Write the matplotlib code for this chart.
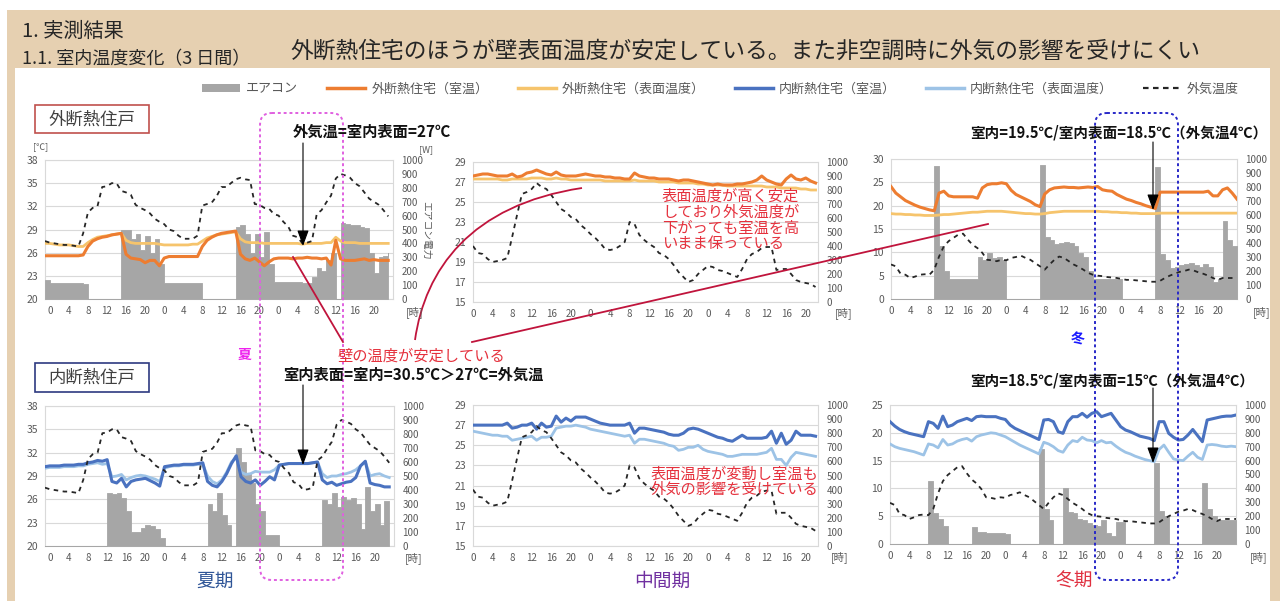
import numpy as np
import matplotlib.pyplot as plt
from matplotlib.patches import Rectangle, FancyBboxPatch, PathPatch, Patch
from matplotlib.path import Path
from matplotlib.lines import Line2D

plt.rcParams['font.family'] = ['Noto Sans CJK JP', 'DejaVu Sans']

# ---- data (hourly readings) ----
hours_sum = np.arange(-1, 72)
hours_mid = np.arange(0, 71)
hours_win = np.arange(0, 73)
xtick_hours = list(range(0, 72, 4))
xtick_labels = ['0', '4', '8', '12', '16', '20'] * 3

out_sum = [27.5,27.3,27.2,27.1,27.0,27.0,26.9,26.8,28.5,
           31.2,31.8,32.0,34.5,34.6,35.0,35.0,34.0,
           33.8,33.5,32.2,31.8,31.5,31.1,30.4,30.0,
           29.7,29.0,28.8,28.2,27.8,27.8,27.8,28.2,
           32.1,32.3,32.5,33.3,34.5,34.5,35.0,35.5,
           35.7,35.5,35.4,32.3,32.2,31.8,31.7,31.0,
           30.8,30.0,29.4,28.2,28.0,27.2,27.3,27.5,
           31.0,31.5,32.5,33.4,35.6,36.2,36.0,35.7,
           35.0,34.6,33.8,33.0,32.6,32.2,31.5,30.7]
ac_out_sum = [140,115,115,115,115,115,115,115,110,
              0,0,0,0,0,0,0,500,
              500,430,470,350,450,330,430,250,
              115,115,115,115,115,115,115,115,
              0,0,0,0,0,0,0,520,
              530,470,330,470,300,480,250,125,
              120,120,120,120,120,115,115,160,
              220,200,280,330,0,545,540,530,
              530,520,510,330,190,300,310,330]
room_out_sum = [25.6,25.6,25.6,25.6,25.6,25.6,25.6,25.6,25.7,
                26.8,27.5,27.8,28.0,28.1,28.3,28.4,28.5,
                25.8,25.3,25.2,25.1,24.7,25.0,25.0,24.3,
                25.3,25.5,25.5,25.5,25.5,25.5,25.5,25.5,
                26.8,27.6,28.0,28.3,28.5,28.6,28.7,28.8,
                25.8,25.2,25.0,25.3,24.8,24.3,24.8,25.2,
                25.3,25.3,25.3,25.2,25.3,25.3,25.4,25.3,
                25.3,25.2,25.3,24.4,27.6,25.2,25.0,25.0,
                25.0,25.1,25.2,25.0,25.1,25.0,25.0,25.0]
surf_out_sum = [27.2,27.2,27.1,27.0,27.0,27.0,26.9,26.8,26.8,
                27.3,27.7,28.0,28.1,28.2,28.3,28.4,28.5,
                27.6,27.3,27.2,27.2,27.2,27.2,27.2,27.1,
                27.0,27.0,27.0,27.0,27.0,27.0,27.1,27.1,
                27.5,27.9,28.1,28.3,28.4,28.5,28.6,28.7,
                27.8,27.4,27.3,27.3,27.3,27.2,27.2,27.2,
                27.2,27.2,27.2,27.2,27.2,27.1,27.2,27.2,
                27.2,27.2,27.3,27.3,28.0,27.5,27.3,27.3,
                27.3,27.2,27.2,27.2,27.2,27.2,27.2,27.2]
ac_in_sum = [0,0,0,0,0,0,0,0,0,0,0,0,0,
             380,370,380,340,250,100,100,130,150,140,120,60,
             0,0,0,0,0,0,0,0,0,
             300,250,380,220,150,0,700,600,520,450,300,250,80,80,80,
             0,0,0,0,0,0,0,0,0,
             330,300,380,280,350,330,340,300,120,420,250,300,150,320,120]
room_in_sum = [30.2,
               30.3,30.3,30.3,30.4,30.4,30.4,30.5,30.5,
               30.7,30.8,31.0,30.9,31.1,
               28.3,28.1,28.7,27.6,28.3,28.5,28.6,28.7,28.4,28.1,27.7,
               30.2,30.3,30.4,30.4,30.5,30.5,30.5,30.6,30.7,
               28.3,27.8,27.6,28.3,29.3,30.6,31.6,
               28.9,28.3,28.1,28.5,27.8,28.3,28.9,28.5,
               30.4,30.5,30.6,30.6,30.6,30.6,30.6,30.7,30.8,
               28.5,28.0,28.2,27.8,28.0,28.2,28.3,28.8,30.3,30.9,28.1,27.9,27.8,27.6,27.6]
surf_in_sum = [30.0,
               30.1,30.1,30.1,30.2,30.2,30.2,30.3,30.3,
               30.5,30.6,30.7,30.5,30.6,
               28.9,29.0,29.2,28.5,28.8,29.0,29.1,29.0,28.8,28.6,28.3,
               30.0,30.2,30.3,30.3,30.4,30.4,30.4,30.5,30.5,
               29.0,28.3,28.0,28.5,29.5,30.8,31.4,
               29.5,29.2,29.3,29.6,29.5,29.5,29.5,29.8,
               30.4,30.5,30.6,30.6,30.6,30.6,30.6,30.7,30.8,
               29.3,28.8,29.0,29.0,29.2,29.3,29.5,29.8,30.3,30.8,29.0,29.2,29.3,29.0,28.8]

out_mid = [20.6,19.9,19.8,19.3,19.0,19.1,19.2,19.4,21.5,23.7,
           25.8,26.0,26.3,26.9,26.5,26.3,25.7,25.0,24.3,24.0,
           23.5,23.3,22.7,22.3,21.8,21.4,20.9,20.3,20.2,20.3,
           20.6,21.0,23.0,22.8,21.7,21.2,20.8,20.5,19.9,19.7,
           19.3,18.7,18.0,17.5,17.0,17.2,17.8,18.2,18.6,18.5,
           18.2,18.1,17.9,17.7,17.5,18.3,19.3,19.8,20.0,20.4,
           20.5,20.5,18.2,18.3,18.3,17.8,17.2,17.0,16.9,16.8,
           16.5]
room_out_mid = [27.6,27.7,27.8,27.8,27.7,27.6,27.6,27.6,27.8,27.5,
                27.6,27.9,28.0,28.2,28.0,27.8,27.7,28.0,27.7,27.6,
                27.6,27.6,27.7,27.8,27.7,27.6,27.6,27.5,27.5,27.4,
                27.4,27.3,27.3,27.9,27.6,27.5,27.4,27.4,27.3,27.3,
                27.3,27.2,27.1,27.2,27.2,27.1,27.0,26.9,26.8,26.7,
                26.8,26.7,26.7,26.7,26.8,26.8,26.9,27.0,27.2,27.6,
                27.2,27.0,26.8,26.7,27.3,27.7,27.3,27.2,27.4,27.1,26.9]
surf_out_mid = [27.3,27.3,27.3,27.3,27.3,27.3,27.2,27.2,27.3,27.3,
                27.3,27.3,27.4,27.4,27.4,27.3,27.3,27.4,27.3,27.3,
                27.2,27.2,27.2,27.2,27.2,27.2,27.2,27.1,27.1,27.1,
                27.1,27.1,27.1,27.2,27.1,27.1,27.1,27.1,27.0,27.0,
                27.0,27.0,26.9,26.9,26.9,26.9,26.8,26.8,26.7,26.7,
                26.7,26.7,26.6,26.6,26.6,26.6,26.6,26.6,26.6,26.6,
                26.5,26.5,26.5,26.4,26.4,26.4,26.4,26.3,26.3,26.2,26.2]
room_in_mid = [27.0,27.0,27.0,27.0,27.0,27.0,27.0,27.2,26.7,26.8,
               27.0,27.0,27.2,26.6,27.2,26.8,26.9,27.9,27.3,27.7,
               27.4,27.8,27.8,27.8,27.6,27.4,27.2,27.1,27.0,27.0,
               27.0,27.0,27.2,26.2,26.7,26.7,26.6,26.5,26.4,26.3,
               26.1,26.0,26.0,26.2,26.6,26.7,26.6,26.4,26.2,26.0,
               25.8,25.7,25.5,25.4,25.7,26.0,25.7,25.7,25.7,25.7,
               25.8,26.4,25.2,26.2,25.1,25.5,26.4,26.0,26.0,26.0,25.9]
surf_in_mid = [26.4,26.3,26.2,26.1,26.0,26.0,25.9,25.9,25.5,25.6,
               25.7,25.8,25.9,25.5,25.8,25.8,25.9,26.7,26.8,26.9,
               26.9,27.0,26.9,26.8,26.6,26.5,26.4,26.3,26.2,26.1,
               26.0,25.9,26.0,25.2,25.6,25.6,25.5,25.4,25.3,25.2,
               25.0,24.9,24.5,24.6,24.8,24.8,25.0,24.6,24.4,24.3,
               24.2,24.1,23.9,23.9,24.0,24.1,24.1,24.1,24.1,24.2,
               24.3,24.7,23.6,23.6,23.0,23.8,24.3,24.2,24.1,24.0,23.9]

out_win = [7.4,7.0,5.4,5.2,4.5,4.8,5.2,5.3,5.2,6.3,
           9.1,11.3,12.4,13.1,13.8,14.0,12.7,11.6,10.9,9.9,
           8.4,8.3,8.1,8.4,8.3,8.8,9.0,9.3,8.8,8.4,
           7.7,7.0,6.3,7.4,8.4,9.1,8.8,8.1,7.4,6.9,
           6.3,5.6,5.2,5.0,4.9,4.7,4.6,4.5,4.3,4.1,
           4.1,4.0,3.9,3.8,3.7,3.7,3.9,4.5,5.0,5.4,
           5.8,6.0,6.3,6.1,5.7,5.4,5.0,4.5,4.1,4.5,
           4.5,4.5,4.5]
ac_out_win = [0,0,0,0,0,0,0,0,0,
              950,380,200,140,140,140,140,140,
              140,300,280,330,290,300,280,0,
              0,0,0,0,0,0,960,440,
              420,390,400,410,400,380,330,300,
              200,140,140,140,140,140,140,0,
              0,0,0,0,0,0,940,320,
              280,220,230,240,250,260,240,230,
              250,230,120,140,560,420,380,350]
room_out_win = [24.1,22.7,21.9,21.1,20.6,20.1,19.7,19.4,19.1,18.9,
                22.7,23.1,22.1,21.9,21.9,21.9,21.9,21.9,21.6,23.8,
                24.5,24.7,24.7,24.9,24.7,23.3,22.4,21.9,21.4,20.9,
                20.2,19.8,22.5,23.4,23.8,23.9,24.0,23.9,23.9,23.8,
                23.9,24.0,23.9,24.1,23.4,23.2,23.1,22.4,21.9,21.4,
                21.1,20.7,20.4,20.0,19.7,19.4,22.9,22.9,22.9,22.9,
                22.9,22.9,22.9,22.9,22.9,22.9,23.1,22.1,22.1,23.4,
                23.8,22.7,21.4]
surf_out_win = [18.3,18.2,18.2,18.1,18.1,18.0,18.0,17.9,17.9,17.9,
                18.0,18.1,18.1,18.2,18.3,18.4,18.5,18.6,18.6,18.7,
                18.8,18.8,18.8,18.8,18.7,18.6,18.5,18.4,18.3,18.3,
                18.2,18.2,18.3,18.5,18.6,18.7,18.8,18.8,18.8,18.8,
                18.8,18.8,18.8,18.8,18.7,18.7,18.6,18.6,18.5,18.5,
                18.4,18.4,18.3,18.3,18.3,18.3,18.4,18.4,18.4,18.4,
                18.4,18.4,18.4,18.4,18.4,18.4,18.4,18.4,18.4,18.4,
                18.4,18.4,18.4]
ac_in_win = [0,0,0,0,0,0,0,0,
             450,220,180,130,0,0,0,0,
             0,120,85,85,80,80,80,80,
             75,0,0,0,0,0,0,680,
             250,170,0,0,400,230,220,180,
             170,150,140,130,170,80,60,160,
             160,0,0,0,0,0,0,580,
             240,200,0,0,0,0,0,0,
             0,440,250,200,170,170,170,170,170]
room_in_win = [22.0,21.2,20.6,20.2,19.9,19.7,19.5,19.3,22.0,21.7,
               20.8,23.0,21.1,21.4,22.0,22.3,22.6,22.2,22.9,23.0,
               22.9,22.9,22.9,22.6,22.4,21.4,20.8,20.4,20.0,19.6,
               19.2,18.8,22.3,22.4,22.0,20.2,19.9,22.0,22.9,22.9,
               23.5,22.8,23.5,23.8,22.9,23.2,23.5,22.3,21.1,20.5,
               20.2,19.8,19.4,19.2,19.0,18.6,22.0,22.0,19.9,19.2,
               18.7,18.8,19.6,20.6,19.5,18.4,22.3,22.5,22.7,22.9,
               23.0,23.0,23.2]
surf_in_win = [18.0,17.5,17.2,17.0,16.8,16.6,16.3,16.0,18.0,17.8,
               17.3,18.8,17.8,18.0,18.5,18.8,19.0,18.5,19.3,19.6,
               19.8,20.0,19.9,19.6,19.3,18.8,18.3,17.8,17.4,17.0,
               16.6,16.2,18.3,18.0,17.5,16.8,16.5,17.8,18.6,18.4,
               19.2,18.7,18.6,18.2,18.6,18.2,18.3,17.6,17.0,16.5,
               16.2,15.8,15.5,15.2,15.0,14.8,17.0,17.8,16.5,15.3,
               15.1,15.0,15.8,16.5,15.6,15.2,17.8,17.9,17.8,17.6,
               17.5,17.6,17.5]

# ---- style ----
TAN = '#e6d0b1'
GRAY = '#a6a6a6'
ORANGE = '#ed7d31'
ORANGE_L = '#f6c46c'
BLUE = '#4a72c0'
BLUE_L = '#9dc3e6'
DARK = '#262626'
TICK = '#595959'
REDLINE = '#c0143c'
REDTXT = '#e5313d'

W, H = 1280, 601
fig = plt.figure(figsize=(12.8, 6.01), dpi=100)
fig.patch.set_facecolor('white')
fig.add_artist(Rectangle((7 / W, 0), 1, 1 - 10 / H, transform=fig.transFigure,
                         fc=TAN, ec='none', zorder=-10))
fig.add_artist(Rectangle((15 / W, 0), (1270 - 15) / W, 1 - 68 / H, transform=fig.transFigure,
                         fc='white', ec='none', zorder=-9))


def box(x0, y0, x1, y1):
    return [x0 / W, 1 - y1 / H, (x1 - x0) / W, (y1 - y0) / H]


def panel(rect, hours, ac, room, surf, outdoor, ylim, ystep, c_room, c_surf, xlim):
    ax = fig.add_axes(box(*rect))
    ax2 = ax.twinx()
    ax.set_xlim(*xlim)
    ax.set_ylim(*ylim)
    ax.set_yticks(np.arange(ylim[0], ylim[1] + 0.1, ystep))
    ax.set_xticks(xtick_hours)
    ax.set_xticklabels(xtick_labels)
    ax.grid(axis='y', color='#d9d9d9', lw=0.8)
    ax.set_axisbelow(True)
    for s in ax.spines.values():
        s.set_color('#d9d9d9')
    for s in ax2.spines.values():
        s.set_visible(False)
    ax.tick_params(length=0, labelsize=7.5, colors=TICK, pad=5)
    ax.tick_params(axis='x', labelsize=7, pad=5)
    if ac is not None:
        ax2.fill_between(hours, ac, step='post', facecolor=GRAY, edgecolor=GRAY, lw=0.6)
    ax2.plot(hours, surf, color=c_surf, lw=2.0, transform=ax.transData)
    ax2.plot(hours, room, color=c_room, lw=2.2, transform=ax.transData)
    ax2.plot(hours, outdoor, color=DARK, lw=1.3, ls=(0, (2.5, 2.5)), transform=ax.transData)
    ax2.set_xlim(*xlim)
    ax2.set_ylim(0, 1000)
    ax2.set_yticks(range(0, 1001, 100))
    ax2.tick_params(length=0, labelsize=7, colors=TICK, pad=6)
    return ax


panel((45, 160, 393, 299), hours_sum, ac_out_sum, room_out_sum, surf_out_sum, out_sum,
      (20, 38), 3, ORANGE, ORANGE_L, (-1, 72))
panel((473, 162, 818, 302), hours_mid, None, room_out_mid, surf_out_mid, out_mid,
      (15, 29), 2, ORANGE, ORANGE_L, (0, 70.5))
panel((891, 159, 1237, 299), hours_win, ac_out_win, room_out_win, surf_out_win, out_win,
      (0, 30), 5, ORANGE, ORANGE_L, (0, 72))
panel((45, 406, 394, 546), hours_sum, ac_in_sum, room_in_sum, surf_in_sum, out_sum,
      (20, 38), 3, BLUE, BLUE_L, (-1, 72))
panel((473, 405, 818, 546), hours_mid, None, room_in_mid, surf_in_mid, out_mid,
      (15, 29), 2, BLUE, BLUE_L, (0, 70.5))
panel((890, 405, 1236, 544), hours_win, ac_in_win, room_in_win, surf_in_win, out_win,
      (0, 25), 5, BLUE, BLUE_L, (0, 72))

# legend
handles = [Patch(fc=GRAY, ec='none'),
           Line2D([], [], color=ORANGE, lw=2.5),
           Line2D([], [], color=ORANGE_L, lw=2.5),
           Line2D([], [], color=BLUE, lw=2.5),
           Line2D([], [], color=BLUE_L, lw=2.5),
           Line2D([], [], color=DARK, lw=1.6, ls=(0, (2.5, 2)))]
labels = ['エアコン', '外断熱住宅（室温）', '外断熱住宅（表面温度）',
          '内断熱住宅（室温）', '内断熱住宅（表面温度）', '外気温度']
fig.legend(handles, labels, loc='center', bbox_to_anchor=(720 / W, 1 - 89 / H), ncol=6,
           frameon=False, fontsize=9.4, labelcolor=TICK, handlelength=2.9,
           handleheight=0.6, handletextpad=0.45, columnspacing=2.3)

# overlay for annotations
ov = fig.add_axes([0, 0, 1, 1])
ov.set_xlim(0, W)
ov.set_ylim(H, 0)
ov.axis('off')
ov.set_zorder(10)

ov.text(22, 31, '1. 実測結果', fontsize=14.5, color=DARK, va='center')
ov.text(22, 59, '1.1. 室内温度変化（3 日間）', fontsize=13, color=DARK, va='center')
ov.text(290, 51, '外断熱住宅のほうが壁表面温度が安定している。また非空調時に外気の影響を受けにくい',
        fontsize=16.4, color=DARK, va='center')

ov.add_patch(Rectangle((35, 105), 114, 28, fc='white', ec='#c0504d', lw=1.2))
ov.text(92, 119, '外断熱住戸', fontsize=12.5, color='#404040', ha='center', va='center')
ov.add_patch(Rectangle((35, 363), 114, 29, fc='white', ec='#2e3a80', lw=1.2))
ov.text(92, 377, '内断熱住戸', fontsize=12.5, color='#404040', ha='center', va='center')

ov.text(41, 147, '[℃]', fontsize=6.5, color=TICK, ha='center', va='center')
ov.text(426, 150, '[W]', fontsize=6.5, color=TICK, ha='center', va='center')
ov.text(426, 230, 'エアコン電力', fontsize=7, color=TICK, rotation=270, ha='center', va='center')
for x, y in [(415, 312), (844, 313), (1262, 312), (414, 558), (840, 557), (1259, 557)]:
    ov.text(x, y, '[時]', fontsize=7.5, color=TICK, ha='center', va='center')

# dashed period boxes
ov.add_patch(FancyBboxPatch((260, 113), 83, 467, boxstyle='round,pad=0,rounding_size=12',
                            fc='none', ec='#e060e0', lw=1.4, ls=(0, (1.5, 1.5))))
ov.add_patch(FancyBboxPatch((1095, 113), 83, 467, boxstyle='round,pad=0,rounding_size=12',
                            fc='none', ec='#2828c8', lw=1.4, ls=(0, (1.5, 1.5))))
ov.text(245, 355, '夏', fontsize=10, color='#ee22ee', fontweight='bold', ha='center', va='center')
ov.text(1078, 340, '冬', fontsize=10, color='#1a1aff', fontweight='bold', ha='center', va='center')

# black callouts
bold = dict(fontsize=11, fontweight='bold', color='#111111', va='center')
bold_r = dict(fontsize=10.5, fontweight='bold', color='#111111', va='center')
ov.text(293, 132, '外気温=室内表面=27℃', **bold)
ov.text(970, 132, '室内=19.5℃/室内表面=18.5℃（外気温4℃）', **bold_r)
ov.text(283, 375, '室内表面=室内=30.5℃＞27℃=外気温', **bold)
ov.text(970, 381, '室内=18.5℃/室内表面=15℃（外気温4℃）', **bold_r)
arrow = dict(arrowstyle='-|>,head_length=0.6,head_width=0.22', color='black', lw=0.8,
             mutation_scale=16, shrinkA=0, shrinkB=0)
ov.annotate('', xy=(303, 246), xytext=(303, 143), arrowprops=arrow)
ov.annotate('', xy=(303, 465), xytext=(303, 385), arrowprops=arrow)
ov.annotate('', xy=(1153, 210), xytext=(1153, 142), arrowprops=arrow)
ov.annotate('', xy=(1153, 463), xytext=(1153, 388), arrowprops=arrow)

# red notes
ov.text(421, 356, '壁の温度が安定している', fontsize=11, color=REDTXT, ha='center', va='center')
ov.text(662, 220, '表面温度が高く安定\nしており外気温度が\n下がっても室温を高\nいまま保っている',
        fontsize=11, color=REDTXT, ha='left', va='center', linespacing=0.9)
ov.text(651, 482, '表面温度が変動し室温も\n外気の影響を受けている',
        fontsize=11, color=REDTXT, ha='left', va='center', linespacing=0.85)
ov.plot([293, 343], [257, 342], color=REDLINE, lw=1.3)
ov.add_patch(PathPatch(Path([(415, 340), (425, 270), (470, 205), (582, 188)],
                            [Path.MOVETO, Path.CURVE4, Path.CURVE4, Path.CURVE4]),
                       fc='none', ec=REDLINE, lw=1.3))
ov.plot([472, 988], [342, 224], color=REDLINE, lw=1.3)

# season labels
ov.text(215, 581, '夏期', fontsize=13.5, color='#2f5597', ha='center', va='center')
ov.text(662, 581, '中間期', fontsize=13.5, color='#7030a0', ha='center', va='center')
ov.text(1074, 581, '冬期', fontsize=13.5, color='#e03040', ha='center', va='center')

fig.savefig('out.png', dpi=100)
